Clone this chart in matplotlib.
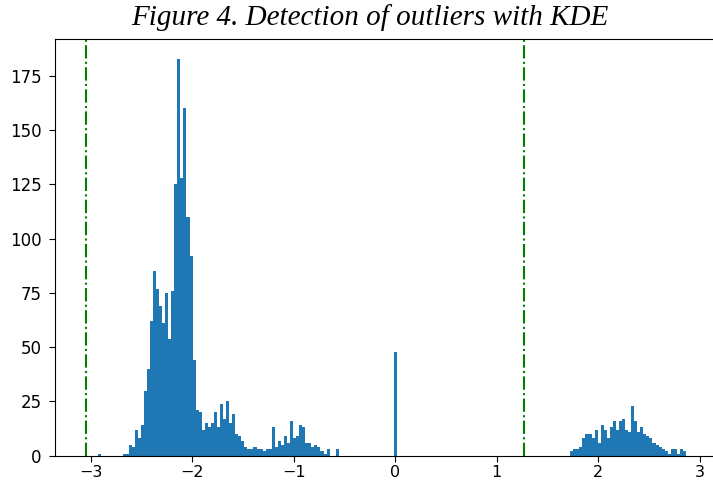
import numpy as np
import matplotlib
matplotlib.use("Agg")
import matplotlib.pyplot as plt

# ==============================
# データ
# ==============================
bin_start = -3.0
bin_width = 0.03
n_bins = 200

# 非ゼロのビン: {ビン番号: 件数}
left_cluster = {
    3: 1, 11: 1, 12: 1, 13: 5, 14: 4, 15: 12, 16: 8, 17: 14, 18: 30, 19: 40,
    20: 62, 21: 85, 22: 77, 23: 69, 24: 61, 25: 75, 26: 54, 27: 76, 28: 125,
    29: 183, 30: 128, 31: 160, 32: 110, 33: 92, 34: 44, 35: 21, 36: 20,
    37: 12, 38: 15, 39: 13, 40: 15, 41: 20, 42: 13, 43: 24, 44: 17, 45: 25,
    46: 15, 47: 19, 48: 10, 49: 9, 50: 7, 51: 4, 52: 3, 53: 3, 54: 4, 55: 3,
    56: 3, 57: 2, 58: 3, 59: 3, 60: 13, 61: 4, 62: 7, 63: 5, 64: 9, 65: 6,
    66: 16, 67: 8, 68: 9, 69: 14, 70: 13, 71: 6, 72: 6, 73: 4, 74: 5, 75: 4,
    76: 2, 77: 1, 78: 3, 81: 3,
}
zero_spike = {100: 48}
right_cluster = {
    158: 2, 159: 3, 160: 3, 161: 4, 162: 8, 163: 10, 164: 10, 165: 8,
    166: 12, 167: 6, 168: 14, 169: 12, 170: 8, 171: 13, 172: 16, 173: 12,
    174: 16, 175: 17, 176: 12, 177: 11, 178: 23, 179: 16, 180: 11, 181: 13,
    182: 10, 183: 9, 184: 8, 185: 6, 186: 5, 187: 4, 188: 3, 189: 2, 190: 1,
    191: 3, 192: 3, 193: 1, 194: 3, 195: 2,
}

# KDEによる外れ値のしきい値
thresholds = [-3.04, 1.27]

title = "Figure 4. Detection of outliers with KDE"

# ==============================
# ビンの組み立て
# ==============================
counts = np.zeros(n_bins)
for d in (left_cluster, zero_spike, right_cluster):
    for k, v in d.items():
        counts[k] = v
edges = bin_start - bin_width / 2 + bin_width * np.arange(n_bins + 1)

# ==============================
# 描画
# ==============================
fig = plt.figure(figsize=(7.13, 4.83), dpi=100)
ax = fig.add_axes([55 / 713, 1 - 455.7 / 483, 665 / 713, (455.7 - 39) / 483])

ax.hist(edges[:-1], bins=edges, weights=counts, color="#1f77b4")
for t in thresholds:
    ax.axvline(t, color="g", linestyle="-.", linewidth=1.5)

ax.set_xlim(-3.35, 3.20)
ax.set_ylim(0, 192)
ax.set_xticks([-3, -2, -1, 0, 1, 2, 3])
ax.set_yticks(np.arange(0, 176, 25))
ax.tick_params(axis="y", labelsize=12, length=4.5, pad=5)
ax.tick_params(axis="x", labelsize=11.5, length=4.5, pad=2)

fig.text(370 / 713, 1 - 18 / 483, title, ha="center", va="center",
         fontsize=21, fontstyle="italic", family="Liberation Serif")

plt.savefig("out.png", dpi=100)
